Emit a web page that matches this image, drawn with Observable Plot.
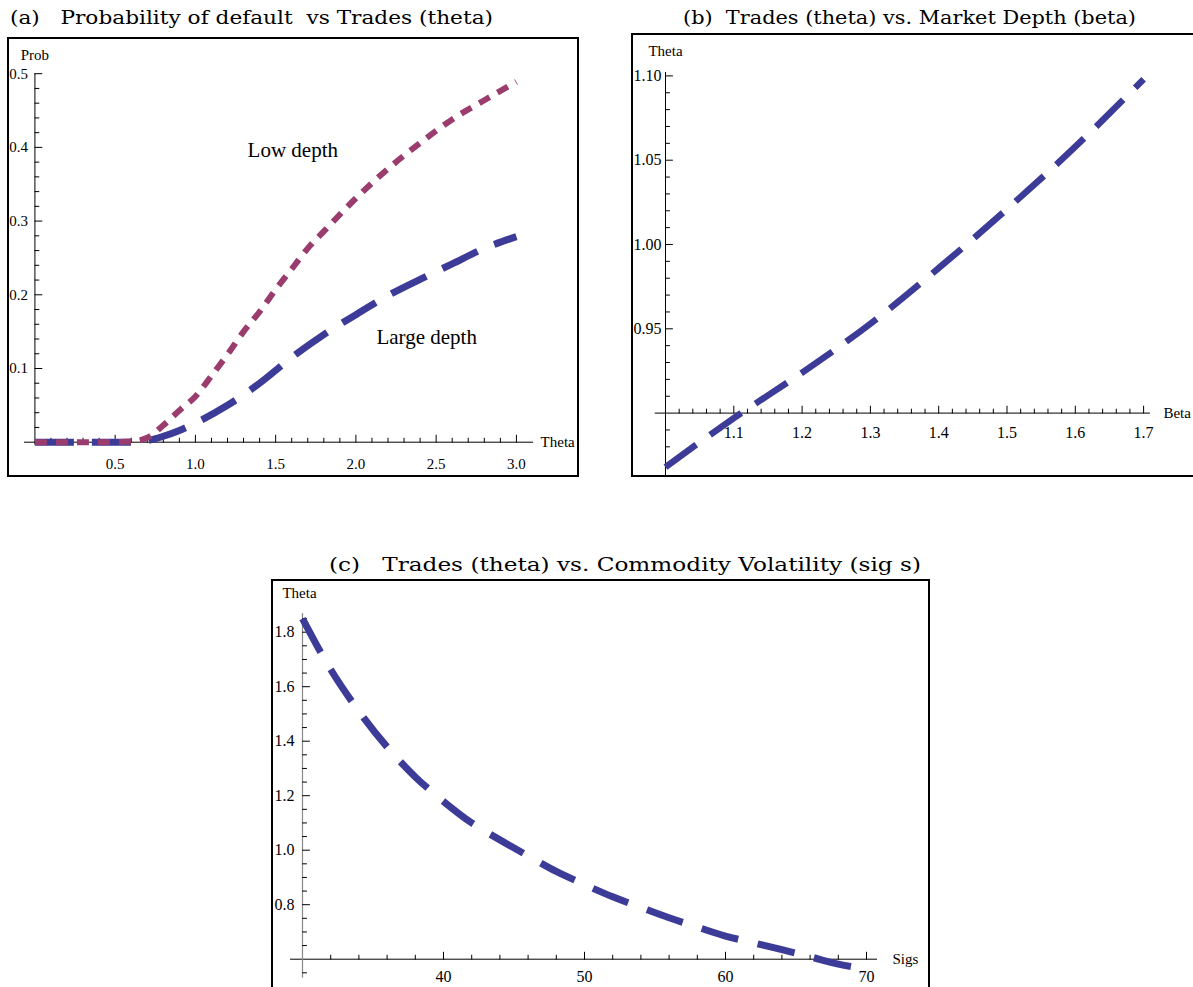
<!DOCTYPE html>
<html><head><meta charset="utf-8">
<script src="https://cdn.jsdelivr.net/npm/d3@7"></script>
<script src="https://cdn.jsdelivr.net/npm/@observablehq/plot@0.6"></script>
<style>
html,body{margin:0;padding:0;background:#fff;}
body{width:1193px;height:987px;overflow:hidden;position:relative;}
.panel{position:absolute;border:2px solid #000;overflow:hidden;box-sizing:border-box;background:#fff;}
.panel svg{display:block;max-width:none;}
#titles{position:absolute;left:0;top:0;}
</style></head><body>
<svg id="titles" width="1193" height="987"></svg>
<script>
// ---------------- data ----------------
// (a) Probability of default vs Trades (theta)
const thetaLow = [0, 0.2, 0.4, 0.6, 0.7, 0.8, 0.9, 1.0, 1.1, 1.2, 1.3, 1.4, 1.5, 1.6, 1.7, 1.8, 2.0, 2.2, 2.4, 2.6, 2.8, 3.0];
const probLow  = [0, 0, 0, 0.001, 0.006, 0.023, 0.043, 0.062, 0.090, 0.119, 0.150, 0.177, 0.207, 0.235, 0.263, 0.286, 0.331, 0.371, 0.406, 0.438, 0.464, 0.489];
const thetaLarge = [0, 0.2, 0.4, 0.6, 0.7, 0.8, 0.9, 1.0, 1.2, 1.4, 1.6, 1.8, 2.0, 2.2, 2.4, 2.6, 2.8, 3.0];
const probLarge  = [0, 0, 0, 0, 0.002, 0.008, 0.016, 0.026, 0.050, 0.080, 0.115, 0.146, 0.173, 0.199, 0.221, 0.242, 0.263, 0.279];
const aXTickValues = [0.5, 1.0, 1.5, 2.0, 2.5, 3.0];
const aXTickLabels = ["0.5", "1.0", "1.5", "2.0", "2.5", "3.0"];
const aYTickValues = [0.1, 0.2, 0.3, 0.4, 0.5];
const aYTickLabels = ["0.1", "0.2", "0.3", "0.4", "0.5"];

// (b) Trades (theta) vs Market Depth (beta)
const betaB  = [1.0, 1.1, 1.2, 1.3, 1.4, 1.5, 1.6, 1.7];
const thetaB = [0.868, 0.897, 0.924, 0.953, 0.986, 1.021, 1.058, 1.098];
const bXTickValues = [1.1, 1.2, 1.3, 1.4, 1.5, 1.6, 1.7];
const bXTickLabels = ["1.1", "1.2", "1.3", "1.4", "1.5", "1.6", "1.7"];
const bYTickValues = [0.95, 1.00, 1.05, 1.10];
const bYTickLabels = ["0.95", "1.00", "1.05", "1.10"];

// (c) Trades (theta) vs Commodity Volatility (sig s)
const sigsC  = [30, 32, 34, 36, 38, 40, 42, 44, 46, 48, 50, 52, 54, 56, 58, 60, 62, 64, 66, 68, 70];
const thetaC = [1.85, 1.663, 1.51, 1.379, 1.269, 1.179, 1.100, 1.038, 0.979, 0.922, 0.874, 0.829, 0.790, 0.752, 0.718, 0.685, 0.660, 0.635, 0.609, 0.582, 0.565];
const cXTickValues = [40, 50, 60, 70];
const cXTickLabels = ["40", "50", "60", "70"];
const cYTickValues = [0.8, 1.0, 1.2, 1.4, 1.6, 1.8];
const cYTickLabels = ["0.8", "1.0", "1.2", "1.4", "1.6", "1.8"];

const titles = [
  "(a)   Probability of default  vs Trades (theta)",
  "(b)  Trades (theta) vs. Market Depth (beta)",
  "(c)   Trades (theta) vs. Commodity Volatility (sig s)"
];

// ---------------- helpers ----------------
const FONT = "'Liberation Serif', 'Times New Roman', serif";
const BLUE = "#3d3b98";
const PURPLE = "#9b3c6e";
const tickShape = {draw(ctx, l) { ctx.moveTo(0, 0); ctx.lineTo(0, -l); }};
const near = (a, b) => Math.abs(a - b) < 1e-6;
function minor(from, to, step, exclude) {
  const out = [];
  const n = Math.round((to - from) / step);
  for (let i = 0; i <= n; i++) {
    const v = +(from + i * step).toFixed(6);
    if (!exclude.some(e => near(e, v))) out.push(v);
  }
  return out;
}
function xTickMarks(values, y0, len, stroke = "#000") {
  return Plot.vector(values, {x: d => d, y: y0, length: len, rotate: 0, anchor: "start", shape: tickShape, stroke, strokeWidth: 1});
}
function yTickMarks(values, x0, len, stroke = "#000") {
  return Plot.vector(values, {x: x0, y: d => d, length: len, rotate: 90, anchor: "start", shape: tickShape, stroke, strokeWidth: 1});
}
function panel(left, top, w, h, xDomain, yDomain, marks) {
  const div = document.createElement("div");
  div.className = "panel";
  Object.assign(div.style, {left: left + "px", top: top + "px", width: w + "px", height: h + "px"});
  const chart = Plot.plot({
    width: w - 4, height: h - 4, margin: 0,
    x: {domain: xDomain, axis: null},
    y: {domain: yDomain, axis: null},
    style: {fontFamily: FONT, background: "transparent", overflow: "visible"},
    marks
  });
  div.appendChild(chart);
  document.body.appendChild(div);
}

// ---------------- titles ----------------
const tsvg = d3.select("#titles");
[[titles[0], 251.5, 24, 483], [titles[1], 909.5, 24, 453], [titles[2], 625, 571, 592]].forEach(([t, cx, y, len]) => {
  tsvg.append("text").attr("x", cx).attr("y", y).attr("text-anchor", "middle")
    .attr("textLength", len).attr("lengthAdjust", "spacingAndGlyphs")
    .style("white-space", "pre").style("font-family", "'DejaVu Serif', serif").style("font-size", "19px")
    .attr("fill", "#000").text(t);
});

// ---------------- panel (a) ----------------
const lowData = thetaLow.map((t, i) => ({t, p: probLow[i]}));
const largeData = thetaLarge.map((t, i) => ({t, p: probLarge[i]}));
panel(7, 37, 572, 440, [-0.1583, 3.3807], [-0.0452, 0.5464], [
  Plot.ruleY([0], {x1: -0.065, x2: 3.107, stroke: "#000", strokeWidth: 1}),
  Plot.ruleX([0], {y1: -0.004, y2: 0.5, stroke: "#000", strokeWidth: 1}),
  xTickMarks(aXTickValues, 0, 7),
  xTickMarks(minor(0.1, 3.0, 0.1, aXTickValues), 0, 4),
  yTickMarks(aYTickValues, 0, 7),
  yTickMarks(minor(0.02, 0.5, 0.02, aYTickValues), 0, 4),
  Plot.text(aXTickValues, {x: d => d, y: 0, dy: 22, text: (d, i) => aXTickLabels[i], fontSize: 15, fontFamily: FONT, fill: "#000"}),
  Plot.text(aYTickValues, {x: 0, y: d => d, dx: -7, textAnchor: "end", text: (d, i) => aYTickLabels[i], fontSize: 15, fontFamily: FONT, fill: "#000"}),
  Plot.text(["Theta"], {x: 3.107, y: 0, dx: 7, textAnchor: "start", fontSize: 15, fontFamily: FONT, fill: "#000"}),
  Plot.text(["Prob"], {x: 0, y: 0.5, dy: -19, fontSize: 15, fontFamily: FONT, fill: "#000"}),
  Plot.line(largeData, {x: "t", y: "p", stroke: BLUE, strokeWidth: 7, strokeDasharray: "39 18", strokeLinecap: "butt", curve: "monotone-x"}),
  Plot.line(lowData, {x: "t", y: "p", stroke: PURPLE, strokeWidth: 6, strokeDasharray: "12 9", strokeLinecap: "butt", curve: "monotone-x"}),
  Plot.text(["Low depth"], {x: 1.325, y: 0.396, textAnchor: "start", fontSize: 21, fontFamily: FONT, fill: "#000"}),
  Plot.text(["Large depth"], {x: 2.128, y: 0.142, textAnchor: "start", fontSize: 21, fontFamily: FONT, fill: "#000"})
]);

// ---------------- panel (b) ----------------
const bData = betaB.map((b, i) => ({b, t: thetaB[i]}));
panel(631, 33, 570, 444, [0.95315, 1.78185], [0.86299, 1.12396], [
  Plot.ruleY([0.9], {x1: 0.985, x2: 1.71, stroke: "#000", strokeWidth: 1}),
  Plot.ruleX([1.0], {y1: 0.862, y2: 1.102, stroke: "#000", strokeWidth: 1}),
  xTickMarks(bXTickValues, 0.9, 7),
  xTickMarks(minor(1.02, 1.70, 0.02, bXTickValues), 0.9, 4),
  yTickMarks(bYTickValues, 1.0, 7),
  yTickMarks(minor(0.87, 1.09, 0.01, [...bYTickValues, 0.9]), 1.0, 4),
  Plot.text(bXTickValues, {x: d => d, y: 0.9, dy: 20, text: (d, i) => bXTickLabels[i], fontSize: 16, fontFamily: FONT, fill: "#000"}),
  Plot.text(bYTickValues, {x: 1.0, y: d => d, dx: -4, textAnchor: "end", text: (d, i) => bYTickLabels[i], fontSize: 16, fontFamily: FONT, fill: "#000"}),
  Plot.text(["Beta"], {x: 1.71, y: 0.9, dx: 13, textAnchor: "start", fontSize: 15, fontFamily: FONT, fill: "#000"}),
  Plot.text(["Theta"], {x: 1.0, y: 1.10, dy: -25, fontSize: 15, fontFamily: FONT, fill: "#000"}),
  Plot.line(bData, {x: "b", y: "t", stroke: BLUE, strokeWidth: 6.5, strokeDasharray: "38 17", strokeLinecap: "butt", curve: "monotone-x"})
]);

// ---------------- panel (c) ----------------
const cData = sigsC.map((s, i) => ({s, t: thetaC[i]}));
panel(271, 579, 659, 420, [27.943, 74.397], [0.45945, 1.98606], [
  Plot.ruleY([0.6], {x1: 29.15, x2: 70.78, stroke: "#000", strokeWidth: 1}),
  Plot.ruleX([30], {y1: 0.53, y2: 1.869, stroke: "#888", strokeWidth: 1.2}),
  xTickMarks(cXTickValues, 0.6, 7),
  xTickMarks(minor(32, 68, 2, cXTickValues), 0.6, 4),
  yTickMarks(cYTickValues, 30, 7),
  yTickMarks(minor(0.55, 1.85, 0.05, [...cYTickValues, 0.6]), 30, 4),
  Plot.text(cXTickValues, {x: d => d, y: 0.6, dy: 18, text: (d, i) => cXTickLabels[i], fontSize: 16, fontFamily: FONT, fill: "#000"}),
  Plot.text(cYTickValues, {x: 30, y: d => d, dx: -8, textAnchor: "end", text: (d, i) => cYTickLabels[i], fontSize: 16, fontFamily: FONT, fill: "#000"}),
  Plot.text(["Sigs"], {x: 70.78, y: 0.6, dx: 15, textAnchor: "start", fontSize: 15, fontFamily: FONT, fill: "#000"}),
  Plot.text(["Theta"], {x: 30, y: 1.8, dy: -39, dx: -3, fontSize: 15, fontFamily: FONT, fill: "#000"}),
  Plot.line(cData, {x: "s", y: "t", stroke: BLUE, strokeWidth: 7, strokeDasharray: "38 20", strokeLinecap: "butt", curve: "monotone-x"})
]);
</script>
</body></html>
